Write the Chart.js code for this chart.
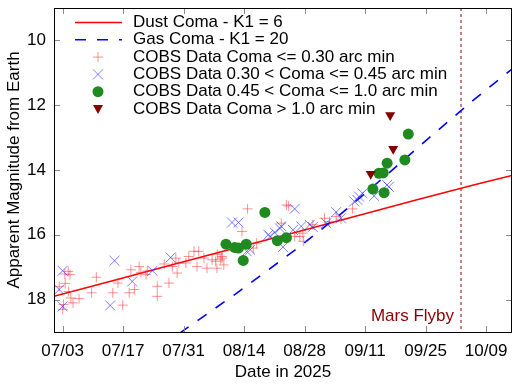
<!DOCTYPE html>
<html>
<head>
<meta charset="utf-8">
<script src="https://cdn.jsdelivr.net/npm/chart.js@4/dist/chart.umd.min.js"></script>
<style>
html,body{margin:0;padding:0;background:#fff;}
#c{display:block;}
</style>
</head>
<body>
<canvas id="c" width="520" height="384" style="width:520px;height:384px"></canvas>
<script>
// Days are counted from 2025-07-01 (day 0)
const xTickDays = [2, 16, 30, 44, 58, 72, 86, 100];
const xTickLabels = ['07/03', '07/17', '07/31', '08/14', '08/28', '09/11', '09/25', '10/09'];
const yTickValues = [10, 12, 14, 16, 18];

const dustDays = [0, 14, 28, 42, 56, 70, 84, 98, 106];
const dustMags = [17.90, 17.40, 16.90, 16.41, 15.92, 15.42, 14.92, 14.43, 14.17];

const gasDays = [25, 30, 42, 56, 66, 77, 86, 97, 104, 110];
const gasMags = [19.45, 18.95, 17.83, 16.45, 15.40, 14.15, 13.10, 11.85, 11.10, 10.45];

const marsFlybyDay = 94.2;

const smallDays = [1.2, 2.0, 2.2, 2.5, 2.6, 3.3, 3.7, 3.4, 3.9, 4.4, 5.8, 8.7, 9.8, 13.6, 14.8, 15.9, 17.4, 17.8, 18.6, 19.7, 21.3,
  20.1, 21.6, 23.9, 23.9, 25.5, 26.6, 27.4, 28.5, 28.9, 30.5, 32.4, 33.5, 33.1, 34.7, 35.4, 36.6, 37.4, 38.9, 38.9, 39.3, 37.8, 28.2, 31.2, 38.5, 37.7,
  43.5, 44.8, 46.9, 46.1, 52.6, 53.8, 56.9, 57.7, 55.7, 54.3, 57.6, 59.9, 62.6, 63.8, 65.3, 66.4, 69.1];
const smallMags = [17.60, 18.30, 18.15, 17.21, 17.50, 17.13, 17.23, 17.75, 17.95, 18.10, 17.97, 17.79, 17.31, 17.79, 17.49, 18.17, 17.79, 17.08, 17.69, 16.98, 17.23,
  17.16, 17.12, 17.59, 17.90, 16.90, 17.49, 16.98, 17.18, 16.87, 16.87, 16.51, 16.51, 16.98, 16.72, 17.03, 16.77, 16.82, 16.67, 16.72, 16.93, 16.60, 16.72, 16.67, 16.77, 17.03,
  15.90, 15.20, 16.26, 16.41, 15.64, 15.08, 16.05, 16.20, 16.05, 15.11, 15.95, 15.69, 15.49, 15.59, 15.44, 15.52, 15.20];

const midDays = [2.0, 1.2, 2.0, 14.0, 13.0, 18.1, 22.8, 27.0,
  41.2, 42.7, 44.6, 45.4, 49.6, 50.0, 51.1, 52.3, 52.6, 53.0, 55.3, 55.7, 57.2, 59.2, 59.9, 63.0, 65.3, 66.4, 69.5, 70.2, 70.6, 71.4, 74.1, 77.1, 77.5];
const midMags = [17.11, 17.69, 18.21, 16.80, 18.18, 17.44, 17.11, 16.70,
  15.62, 15.62, 16.51, 16.46, 16.00, 16.05, 15.93, 15.80, 15.74, 16.38, 15.85, 15.20, 15.74, 15.69, 15.76, 15.64, 15.30, 15.49, 14.97, 14.92, 14.82, 14.72, 14.80, 14.46, 14.52];

const largeDays = [39.8, 41.8, 42.7, 44.5, 43.8, 48.8, 51.7, 53.8, 73.8, 75.2, 76.2, 76.4, 77.1, 81.2, 82.0];
const largeMags = [16.29, 16.39, 16.41, 16.29, 16.79, 15.31, 16.18, 16.09, 14.59, 14.10, 14.09, 14.70, 13.79, 13.69, 12.89];

const hugeDays = [73.3, 78.5, 77.8];
const hugeMags = [14.12, 13.35, 12.31];

const seriesNames = [
  'Dust Coma - K1 = 6',
  'Gas Coma - K1 = 20',
  'COBS Data Coma <= 0.30 arc min',
  'COBS Data 0.30 < Coma <= 0.45 arc min',
  'COBS Data 0.45 < Coma <= 1.0 arc min',
  'COBS Data Coma > 1.0 arc min'
];

const FONT = '"Liberation Sans", Arial, sans-serif';
const FS = 17;
const toPts = (xs, ys) => xs.map((x, i) => ({x: x, y: ys[i]}));

const C_DUST = '#ff0000';
const C_GAS = '#0000ff';
const C_SMALL = 'rgba(255,40,40,0.5)';
const C_MID = 'rgba(40,40,255,0.6)';
const C_LARGE = '#1f8a1f';
const C_HUGE = '#850000';
const C_MARS = '#8b0000';

const bgPlugin = {
  id: 'bg',
  beforeDraw(chart) {
    const ctx = chart.ctx;
    ctx.save();
    ctx.fillStyle = '#fff';
    ctx.fillRect(0, 0, chart.width, chart.height);
    ctx.restore();
  }
};

const framePlugin = {
  id: 'frame',
  afterDraw(chart) {
    const ctx = chart.ctx;
    const a = chart.chartArea;
    const xs = chart.scales.x, ys = chart.scales.y;
    ctx.save();
    // ticks (inward, mirrored)
    ctx.strokeStyle = '#8a8a8a';
    ctx.lineWidth = 1;
    const tl = 6;
    ctx.beginPath();
    xTickDays.forEach(d => {
      const px = Math.round(xs.getPixelForValue(d)) + 0.5;
      ctx.moveTo(px, a.bottom); ctx.lineTo(px, a.bottom - tl);
      ctx.moveTo(px, a.top); ctx.lineTo(px, a.top + tl);
    });
    yTickValues.forEach(v => {
      const py = Math.round(ys.getPixelForValue(v)) + 0.5;
      ctx.moveTo(a.left, py); ctx.lineTo(a.left + tl, py);
      ctx.moveTo(a.right, py); ctx.lineTo(a.right - tl, py);
    });
    ctx.stroke();
    // border
    ctx.strokeStyle = '#000';
    ctx.lineWidth = 1;
    ctx.strokeRect(Math.round(a.left) + 0.5, Math.round(a.top) + 0.5, Math.round(a.right - a.left) - 1, Math.round(a.bottom - a.top));
    // Mars Flyby label
    ctx.fillStyle = C_MARS;
    ctx.font = FS + 'px ' + FONT;
    ctx.textAlign = 'right';
    ctx.textBaseline = 'middle';
    ctx.fillText('Mars Flyby', xs.getPixelForValue(marsFlybyDay) - 7, a.bottom - 16);
    // legend
    const lx0 = a.left + 21, lx1 = a.left + 68, mx = a.left + 44, tx = a.left + 79;
    const row0 = a.top + 14.5, dy = 17.3;
    ctx.textAlign = 'left';
    ctx.fillStyle = '#000';
    seriesNames.forEach((name, i) => {
      const y = row0 + i * dy;
      ctx.fillStyle = '#000';
      ctx.fillText(name, tx, y);
      ctx.save();
      if (i === 0) {
        ctx.strokeStyle = C_DUST; ctx.lineWidth = 1.5;
        ctx.beginPath(); ctx.moveTo(lx0, y); ctx.lineTo(lx1, y); ctx.stroke();
      } else if (i === 1) {
        ctx.strokeStyle = C_GAS; ctx.lineWidth = 1.5; ctx.setLineDash([11, 11]);
        ctx.beginPath(); ctx.moveTo(lx0, y); ctx.lineTo(lx1, y); ctx.stroke();
      } else if (i === 2) {
        ctx.strokeStyle = C_SMALL; ctx.lineWidth = 1;
        ctx.beginPath(); ctx.moveTo(mx - 5, y); ctx.lineTo(mx + 5, y); ctx.moveTo(mx, y - 5); ctx.lineTo(mx, y + 5); ctx.stroke();
      } else if (i === 3) {
        ctx.strokeStyle = C_MID; ctx.lineWidth = 1;
        ctx.beginPath(); ctx.moveTo(mx - 5, y - 5); ctx.lineTo(mx + 5, y + 5); ctx.moveTo(mx + 5, y - 5); ctx.lineTo(mx - 5, y + 5); ctx.stroke();
      } else if (i === 4) {
        ctx.fillStyle = C_LARGE;
        ctx.beginPath(); ctx.arc(mx, y, 5.5, 0, Math.PI * 2); ctx.fill();
      } else {
        ctx.fillStyle = C_HUGE;
        ctx.beginPath(); ctx.moveTo(mx - 5, y - 4); ctx.lineTo(mx + 5, y - 4); ctx.lineTo(mx, y + 5); ctx.closePath(); ctx.fill();
      }
      ctx.restore();
    });
    ctx.restore();
  }
};

new Chart(document.getElementById('c'), {
  type: 'scatter',
  data: {
    datasets: [
      {label: seriesNames[5], data: toPts(hugeDays, hugeMags), pointStyle: 'triangle', rotation: 180, pointRadius: 5.8,
        backgroundColor: C_HUGE, borderColor: C_HUGE, borderWidth: 0, order: 1},
      {label: seriesNames[4], data: toPts(largeDays, largeMags), pointStyle: 'circle', pointRadius: 5.5,
        backgroundColor: C_LARGE, borderColor: C_LARGE, borderWidth: 0, order: 2},
      {label: seriesNames[3], data: toPts(midDays, midMags), pointStyle: 'crossRot', pointRadius: 7,
        borderColor: C_MID, backgroundColor: C_MID, borderWidth: 1, order: 3},
      {label: seriesNames[2], data: toPts(smallDays, smallMags), pointStyle: 'cross', pointRadius: 5,
        borderColor: C_SMALL, backgroundColor: C_SMALL, borderWidth: 1, order: 4},
      {label: seriesNames[1], data: toPts(gasDays, gasMags), showLine: true, pointRadius: 0, borderColor: C_GAS,
        borderWidth: 1.6, borderDash: [11, 11], tension: 0, order: 5},
      {label: seriesNames[0], data: toPts(dustDays, dustMags), showLine: true, pointRadius: 0, borderColor: C_DUST,
        borderWidth: 1.5, tension: 0, order: 6},
      {label: 'Mars Flyby', data: [{x: marsFlybyDay, y: 9}, {x: marsFlybyDay, y: 19}], showLine: true, pointRadius: 0,
        borderColor: C_MARS, borderWidth: 1, borderDash: [3, 3], order: 7}
    ]
  },
  options: {
    responsive: false,
    animation: false,
    devicePixelRatio: 1,
    layout: {padding: {top: 7, right: 4, left: 0, bottom: 0}},
    plugins: {legend: {display: false}, tooltip: {enabled: false}},
    scales: {
      x: {
        type: 'linear', min: 0, max: 106,
        grid: {display: false, drawTicks: false},
        border: {display: false},
        afterBuildTicks: s => { s.ticks = xTickDays.map(v => ({value: v})); },
        afterFit: s => { s.height = 52; s.paddingLeft = 0; s.paddingRight = 0; },
        ticks: {
          autoSkip: false, maxRotation: 0, padding: 9, color: '#000',
          font: {family: FONT, size: FS},
          callback: v => { const i = xTickDays.indexOf(v); return i >= 0 ? xTickLabels[i] : ''; }
        },
        title: {display: true, text: 'Date in 2025', color: '#000', font: {family: FONT, size: FS}, padding: {top: 0, bottom: 1}}
      },
      y: {
        type: 'linear', min: 9, max: 19, reverse: true,
        grid: {display: false, drawTicks: false},
        border: {display: false},
        afterBuildTicks: s => { s.ticks = yTickValues.map(v => ({value: v})); },
        afterFit: s => { s.width = 54; s.paddingTop = 0; s.paddingBottom = 0; },
        ticks: {padding: 8, color: '#000', font: {family: FONT, size: FS}},
        title: {display: true, text: 'Apparent Magnitude from Earth', color: '#000', font: {family: FONT, size: FS}, padding: {top: 4, bottom: 0}}
      }
    }
  },
  plugins: [bgPlugin, framePlugin]
});
</script>
</body>
</html>
